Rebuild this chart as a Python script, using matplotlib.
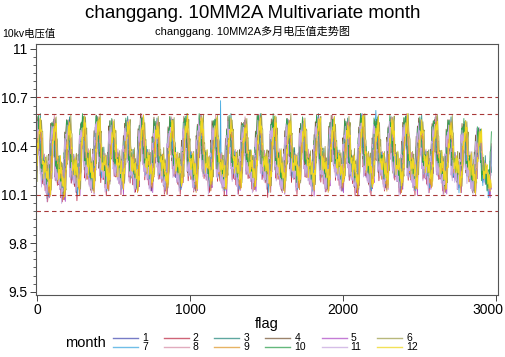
import numpy as np
import matplotlib
matplotlib.use("Agg")
import matplotlib.pyplot as plt
import matplotlib.transforms as mtransforms
from matplotlib.lines import Line2D
from matplotlib.ticker import MultipleLocator

plt.rcParams['font.family'] = ['Liberation Sans', 'Noto Sans CJK SC']

# data (hourly samples, flag = 15-min index)
months = [1, 2, 3, 4, 5, 6, 7, 8, 9, 10, 11, 12]
days_in_month = [31, 28, 31, 30, 31, 30, 31, 31, 30, 31, 30, 31]
colors = ['#4a50b4', '#c0304a', '#2a8a80', '#7a5a3a', '#b050c8', '#a0a050',
          '#40a8e0', '#d890a8', '#e09a30', '#30a050', '#c8a8e0', '#f0d820']

# daily shape of voltage (0 = daily low, 1 = daily high), by hour
hour_profile = [0.80, 0.88, 0.94, 0.98, 1.00, 0.93, 0.74, 0.54, 0.40, 0.33, 0.30, 0.35,
                0.43, 0.36, 0.30, 0.27, 0.24, 0.19, 0.12, 0.06, 0.09, 0.24, 0.45, 0.64]
# daily high / low
day_high = [10.52, 10.51, 10.50, 10.52, 10.53, 10.49, 10.51, 10.53, 10.50, 10.51,
            10.53, 10.53, 10.51, 10.52, 10.50, 10.53, 10.52, 10.51, 10.50, 10.53,
            10.52, 10.50, 10.54, 10.51, 10.52, 10.53, 10.51, 10.52, 10.50, 10.49, 10.46]
day_low = [10.10, 10.09, 10.13, 10.14, 10.15, 10.16, 10.14, 10.16, 10.15, 10.16,
           10.15, 10.16, 10.14, 10.15, 10.16, 10.15, 10.14, 10.16, 10.15, 10.14,
           10.16, 10.14, 10.15, 10.16, 10.15, 10.14, 10.16, 10.14, 10.15, 10.13, 10.11]
month_offset = [0.00, -0.03, 0.02, 0.01, -0.02, 0.03, 0.00, 0.02, -0.01, 0.02, -0.02, 0.01]
month_shift = [0, 2, -1, 3, -2, -3, 1, 0, -1, 2, 3, -2]
wiggle = [0.03, -0.05, 0.06, -0.02, 0.04, -0.06, 0.01, -0.03, 0.05, -0.04, 0.0, 0.06, -0.05]
# isolated spikes: (month, flag, value)
spikes = [(7, 1200, 10.68), (7, 2216, 10.62)]

ref_lines = [10.7, 10.6, 10.1, 10.0]

fig = plt.figure(figsize=(5.06, 3.57), dpi=100)
ax = fig.add_axes([0.0711, 0.1737, 0.9130, 0.7031])

handles = []
for k, m in enumerate(months):
    n = days_in_month[k] * 24
    flag = np.arange(n) * 4
    vals = []
    for i in range(n):
        d = i // 24
        h = i % 24
        p = hour_profile[(h + month_shift[k]) % 24]
        v = day_low[d] + (day_high[d] - day_low[d]) * p + month_offset[k] + wiggle[(i + 5 * k) % 13]
        vals.append(min(max(v, 10.02), 10.6))
    vals = np.array(vals)
    for sm, sf, sv in spikes:
        if sm == m:
            vals[sf // 4] = sv
    ax.plot(flag, vals, color=colors[k], lw=0.6)
    handles.append(Line2D([], [], color=colors[k], lw=1.0, alpha=0.75))

for r in ref_lines:
    ax.axhline(r, color='#a83838', lw=0.8, ls=(0, (4, 3)))

ax.set_xlim(-8, 3015)
ax.set_ylim(9.48, 11.03)
ax.set_xticks([0, 1000, 2000, 3000])
ax.set_yticks([9.5, 9.8, 10.1, 10.4, 10.7, 11])
ax.set_yticklabels(['9.5', '9.8', '10.1', '10.4', '10.7', '11'])
ax.yaxis.set_minor_locator(MultipleLocator(0.05))
ax.tick_params(axis='both', which='major', labelsize=10, length=4, width=0.7,
               color='#444444', pad=2)
ax.tick_params(axis='y', which='minor', length=2, width=0.6, color='#444444')
for s in ax.spines.values():
    s.set_color('#555555')
    s.set_linewidth(0.8)

# keep the last x label inside the figure
last = ax.get_xticklabels()[-1]
last.set_horizontalalignment('right')
last.set_transform(last.get_transform() + mtransforms.ScaledTranslation(0.08, 0, fig.dpi_scale_trans))

ax.set_xlabel('flag', fontsize=10.5, labelpad=0)
fig.text(0.5, 0.962, 'changgang. 10MM2A Multivariate month', ha='center', va='center', fontsize=13.5)
fig.text(0.5, 0.912, 'changgang. 10MM2A多月电压值走势图', ha='center', va='center', fontsize=8)
fig.text(0.004, 0.905, '10kv电压值', ha='left', va='center', fontsize=7.5)

fig.text(0.128, 0.040, 'month', ha='left', va='center', fontsize=10.5)
order = [0, 6, 1, 7, 2, 8, 3, 9, 4, 10, 5, 11]
fig.legend([handles[i] for i in order], [str(months[i]) for i in order],
           ncol=6, loc='center', bbox_to_anchor=(0.525, 0.040), frameon=False,
           fontsize=7.5, handlelength=2.4, handletextpad=0.4, columnspacing=1.5,
           labelspacing=-0.1, borderpad=0)

fig.savefig('out.png', dpi=100)
